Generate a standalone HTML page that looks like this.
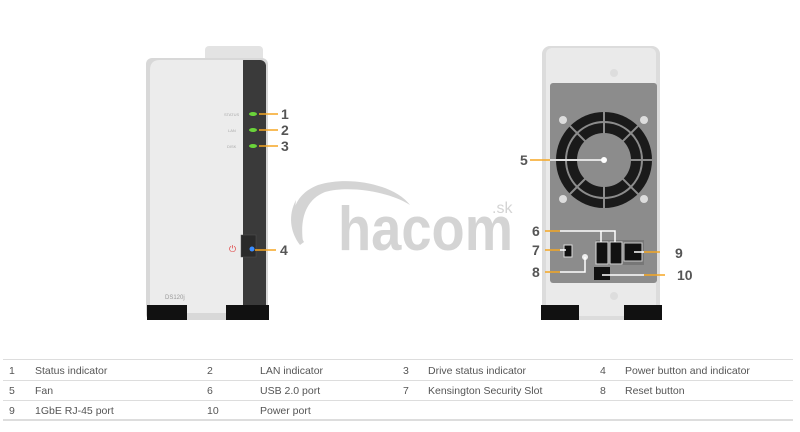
<!DOCTYPE html>
<html><head><style>
html,body{margin:0;padding:0;background:#fff;}
svg{display:block;}
</style></head><body>
<svg width="800" height="432" viewBox="0 0 800 432" xmlns="http://www.w3.org/2000/svg" font-family="Liberation Sans, sans-serif">
<!-- watermark -->
<g fill="#d4d4d4">
<path d="M303 242 C286 220 292 195 318 185 C350 175 395 185 410 205 C390 192 350 185 325 192 C305 200 300 220 303 242Z"/>
<path d="M300 245 C290 232 288 215 296 200 C294 215 297 230 304 242Z"/>
<text x="338" y="250" font-size="62" font-weight="bold" textLength="175" lengthAdjust="spacingAndGlyphs">hacom</text>
<text x="492" y="213" font-size="16">.sk</text>
</g>
<!-- front device -->
<rect x="205" y="46" width="58" height="20" rx="4" fill="#e3e3e3"/>
<rect x="146" y="58" width="122" height="262" rx="6" fill="#d8d8d8"/>
<rect x="238" y="60" width="28" height="258" rx="6" fill="#3a3a3a"/>
<path d="M150 70 Q150 60 160 60 L243 60 L243 313 L150 313Z" fill="#ececec"/>
<rect x="241" y="235" width="15" height="22" fill="#2a2a2a" stroke="#555" stroke-width="0.5"/>
<circle cx="252" cy="249" r="2.5" fill="#3a8cff"/>
<text x="229" y="252" font-size="9" fill="#e04040">⏻</text>
<ellipse cx="253" cy="114" rx="4" ry="2" fill="#6ad43a"/>
<ellipse cx="253" cy="130" rx="4" ry="2" fill="#6ad43a"/>
<ellipse cx="253" cy="146" rx="4" ry="2" fill="#6ad43a"/>
<g font-size="4" fill="#aaa"><text x="224" y="116">STATUS</text><text x="228" y="132">LAN</text><text x="227" y="148">DISK</text></g>
<text x="165" y="299" font-size="6" fill="#999">DS120j</text>
<rect x="147" y="305" width="40" height="15" fill="#111"/>
<rect x="226" y="305" width="43" height="15" fill="#111"/>
<g stroke="#f5a623" stroke-width="1.5"><line x1="259" y1="114" x2="278" y2="114"/><line x1="259" y1="130" x2="278" y2="130"/><line x1="259" y1="146" x2="278" y2="146"/><line x1="255" y1="250" x2="276" y2="250"/></g>
<g font-size="14" font-weight="bold" fill="#555"><text x="281" y="119">1</text><text x="281" y="135">2</text><text x="281" y="151">3</text><text x="280" y="255">4</text></g>
<!-- back device -->
<rect x="542" y="46" width="118" height="274" rx="8" fill="#dcdcdc"/>
<rect x="546" y="48" width="110" height="268" rx="6" fill="#eaeaea"/>
<rect x="550" y="83" width="107" height="200" rx="3" fill="#8c8c8c"/>
<circle cx="604" cy="160" r="48" fill="#1a1a1a"/>
<g stroke="#8c8c8c" stroke-width="2" fill="none"><circle cx="604" cy="160" r="38"/>
<line x1="604" y1="112" x2="604" y2="208"/><line x1="556" y1="160" x2="652" y2="160"/><line x1="570" y1="126" x2="638" y2="194"/><line x1="638" y1="126" x2="570" y2="194"/></g>
<circle cx="604" cy="160" r="27" fill="#8c8c8c"/>
<circle cx="604" cy="160" r="3" fill="#fff"/>
<g fill="#ddd"><circle cx="563" cy="120" r="4"/><circle cx="644" cy="120" r="4"/><circle cx="563" cy="199" r="4"/><circle cx="644" cy="199" r="4"/><circle cx="614" cy="73" r="4"/><circle cx="614" cy="296" r="4"/></g>
<rect x="596" y="240" width="48" height="25" fill="#777"/>
<rect x="596" y="242" width="12" height="22" fill="#111" stroke="#ddd"/><rect x="610" y="242" width="12" height="22" fill="#111" stroke="#ddd"/>
<rect x="624" y="243" width="18" height="18" fill="#111" stroke="#ccc"/>
<rect x="564" y="245" width="8" height="12" fill="#111" stroke="#ddd"/>
<circle cx="585" cy="257" r="3" fill="#eee"/>
<rect x="594" y="267" width="16" height="13" fill="#111"/>
<rect x="541" y="305" width="38" height="15" fill="#111"/><rect x="624" y="305" width="38" height="15" fill="#111"/>
<g stroke="#f5a623" stroke-width="1.5" fill="none"><line x1="530" y1="160" x2="550" y2="160"/><line x1="545" y1="231" x2="560" y2="231"/><line x1="545" y1="250" x2="560" y2="250"/><line x1="545" y1="272" x2="560" y2="272"/><line x1="644" y1="252" x2="660" y2="252"/><line x1="644" y1="275" x2="665" y2="275"/></g>
<g stroke="#fff" stroke-width="1.5" fill="none"><line x1="550" y1="160" x2="604" y2="160"/><polyline points="560,231 615,231 615,242"/><line x1="601" y1="231" x2="601" y2="242"/><line x1="560" y1="250" x2="566" y2="250"/><polyline points="560,272 585,272 585,257"/><line x1="634" y1="252" x2="644" y2="252"/><line x1="602" y1="275" x2="644" y2="275"/></g>
<g font-size="14" font-weight="bold" fill="#555"><text x="520" y="165">5</text><text x="532" y="236">6</text><text x="532" y="255">7</text><text x="532" y="277">8</text><text x="675" y="258">9</text><text x="677" y="280">10</text></g>
<!-- table -->
<g stroke="#ddd" stroke-width="1"><line x1="3" y1="359.5" x2="793" y2="359.5"/><line x1="3" y1="380.5" x2="793" y2="380.5"/><line x1="3" y1="400.5" x2="793" y2="400.5"/></g>
<line x1="3" y1="420" x2="793" y2="420" stroke="#ddd" stroke-width="2"/>
<g font-size="10.5" fill="#555">
<text x="9" y="374">1</text><text x="35" y="374">Status indicator</text>
<text x="207" y="374">2</text><text x="260" y="374">LAN indicator</text>
<text x="403" y="374">3</text><text x="428" y="374">Drive status indicator</text>
<text x="600" y="374">4</text><text x="625" y="374">Power button and indicator</text>
<text x="9" y="394">5</text><text x="35" y="394">Fan</text>
<text x="207" y="394">6</text><text x="260" y="394">USB 2.0 port</text>
<text x="403" y="394">7</text><text x="428" y="394">Kensington Security Slot</text>
<text x="600" y="394">8</text><text x="625" y="394">Reset button</text>
<text x="9" y="414">9</text><text x="35" y="414">1GbE RJ-45 port</text>
<text x="207" y="414">10</text><text x="260" y="414">Power port</text>
</g>
</svg>
</body></html>
